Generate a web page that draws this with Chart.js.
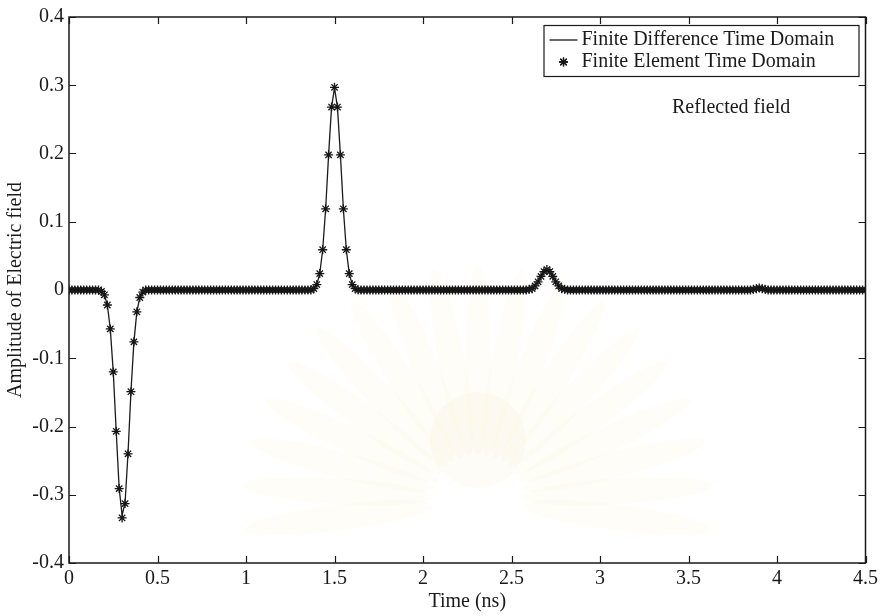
<!DOCTYPE html>
<html>
<head>
<meta charset="utf-8">
<title>Reflected field</title>
<script src="https://cdn.jsdelivr.net/npm/chart.js@4.4.1/dist/chart.umd.min.js"></script>
<style>
  html, body { margin: 0; padding: 0; background: #fff; }
  #wrap { width: 882px; height: 616px; }
</style>
</head>
<body>
<div id="wrap"><canvas id="grafica"></canvas></div>
<script>
// FDTD reference line (ns, field amplitude)
const fdtdTime = [
    0, 0.15, 0.1667, 0.1833, 0.2, 0.2167, 0.2333, 0.25, 0.2667, 0.2833, 0.3, 0.3167, 0.3333, 0.35, 0.3667, 0.3833, 0.4, 0.4167, 0.45,
    1.35, 1.3833, 1.4, 1.4167, 1.4333, 1.45, 1.4667, 1.4833, 1.5, 1.5167, 1.5333, 1.55, 1.5667, 1.5833, 1.6, 1.6167, 1.65,
    2.55, 2.6, 2.6167, 2.6333, 2.65, 2.6667, 2.6833, 2.7, 2.7167, 2.7333, 2.75, 2.7667, 2.7833, 2.8, 2.85,
    3.83, 3.8667, 3.8833, 3.9, 3.9167, 3.9333, 3.97, 4.5
];
const fdtdField = [
    0, 0, 0, -0.002, -0.007, -0.022, -0.057, -0.120, -0.207, -0.290, -0.330, -0.312, -0.240, -0.149, -0.076, -0.032, -0.011, -0.003, 0,
    0, 0.002, 0.008, 0.024, 0.059, 0.119, 0.198, 0.268, 0.296, 0.268, 0.198, 0.119, 0.059, 0.024, 0.008, 0.002, 0,
    0, 0.001, 0.002, 0.006, 0.012, 0.020, 0.027, 0.030, 0.027, 0.020, 0.012, 0.006, 0.002, 0.001, 0,
    0, 0.001, 0.002, 0.003, 0.002, 0.001, 0, 0
];

// FETD samples, one every 1/60 ns from 0 to 4.5 ns
const fetdStep = 1 / 60;
const fetdField = [
    0, 0, 0, 0, 0, 0, 0, 0, 0, 0,
    0, -0.002, -0.007, -0.022, -0.057, -0.120, -0.207, -0.291, -0.334, -0.313,
    -0.240, -0.149, -0.076, -0.032, -0.011, -0.003, 0, 0, 0, 0,
    0, 0, 0, 0, 0, 0, 0, 0, 0, 0,
    0, 0, 0, 0, 0, 0, 0, 0, 0, 0,
    0, 0, 0, 0, 0, 0, 0, 0, 0, 0,
    0, 0, 0, 0, 0, 0, 0, 0, 0, 0,
    0, 0, 0, 0, 0, 0, 0, 0, 0, 0,
    0, 0, 0, 0.002, 0.008, 0.024, 0.059, 0.119, 0.198, 0.268,
    0.297, 0.268, 0.198, 0.119, 0.059, 0.024, 0.008, 0.002, 0, 0,
    0, 0, 0, 0, 0, 0, 0, 0, 0, 0,
    0, 0, 0, 0, 0, 0, 0, 0, 0, 0,
    0, 0, 0, 0, 0, 0, 0, 0, 0, 0,
    0, 0, 0, 0, 0, 0, 0, 0, 0, 0,
    0, 0, 0, 0, 0, 0, 0, 0, 0, 0,
    0, 0, 0, 0, 0, 0, 0.001, 0.002, 0.006, 0.012,
    0.020, 0.027, 0.030, 0.027, 0.020, 0.012, 0.006, 0.002, 0.001, 0,
    0, 0, 0, 0, 0, 0, 0, 0, 0, 0,
    0, 0, 0, 0, 0, 0, 0, 0, 0, 0,
    0, 0, 0, 0, 0, 0, 0, 0, 0, 0,
    0, 0, 0, 0, 0, 0, 0, 0, 0, 0,
    0, 0, 0, 0, 0, 0, 0, 0, 0, 0,
    0, 0, 0, 0, 0, 0, 0, 0, 0, 0,
    0, 0, 0.001, 0.002, 0.003, 0.002, 0.001, 0, 0, 0,
    0, 0, 0, 0, 0, 0, 0, 0, 0, 0,
    0, 0, 0, 0, 0, 0, 0, 0, 0, 0,
    0, 0, 0, 0, 0, 0, 0, 0, 0, 0,
    0
];

const serieNombres = ['Finite Difference Time Domain', 'Finite Element Time Domain'];
const anotacion = 'Reflected field';
const ejeX = { min: 0, max: 4.5, paso: 0.5, titulo: 'Time (ns)' };
const ejeY = { min: -0.4, max: 0.4, paso: 0.1, titulo: 'Amplitude of Electric field' };

const TINTA = '#1a1a1a';
const FUENTE = "'Liberation Serif', 'Times New Roman', serif";

// "1" en vez de "1.0", "-0.3" sin ruido de coma flotante
const etiqueta = v => String(Math.round(v * 10) / 10);

// Sello tenue de fondo (marca de agua del documento escaneado)
const sello = {
    id: 'sello',
    beforeDatasetsDraw(chart) {
        const c = chart.ctx;
        c.save();
        c.translate(478, 500);
        for (let k = 0; k < 19; k++) {
            const ang = Math.PI * (0.96 + k * 1.08 / 18);
            c.save();
            c.rotate(ang);
            c.beginPath();
            c.ellipse(140, 0, 95, 13, 0, 0, Math.PI * 2);
            c.fillStyle = 'rgba(240, 228, 180, 0.09)';
            c.fill();
            c.restore();
        }
        c.beginPath();
        c.arc(0, -60, 48, 0, Math.PI * 2);
        c.fillStyle = 'rgba(244, 234, 200, 0.16)';
        c.fill();
        c.restore();
    }
};

// Marco completo con marcas de escala hacia dentro (estilo MATLAB)
const marco = {
    id: 'marco',
    afterDatasetsDraw(chart) {
        const { ctx, chartArea: a, scales: { x, y } } = chart;
        const largo = 7;
        ctx.save();
        ctx.strokeStyle = TINTA;
        ctx.lineWidth = 1.5;
        ctx.strokeRect(a.left, a.top, a.right - a.left, a.bottom - a.top);
        ctx.lineWidth = 1.2;
        ctx.beginPath();
        x.ticks.forEach(t => {
            const px = Math.round(x.getPixelForValue(t.value)) + 0.5;
            ctx.moveTo(px, a.bottom); ctx.lineTo(px, a.bottom - largo);
            ctx.moveTo(px, a.top); ctx.lineTo(px, a.top + largo);
        });
        y.ticks.forEach(t => {
            const py = Math.round(y.getPixelForValue(t.value)) + 0.5;
            ctx.moveTo(a.left, py); ctx.lineTo(a.left + largo, py);
            ctx.moveTo(a.right, py); ctx.lineTo(a.right - largo, py);
        });
        ctx.stroke();
        ctx.restore();
    }
};

// Leyenda en caja y texto de anotación dentro del área
const leyenda = {
    id: 'leyenda',
    afterDraw(chart) {
        const { ctx, chartArea: a } = chart;
        const caja = { x: a.right - 322, y: a.top + 8, w: 315, h: 51 };
        ctx.save();
        ctx.fillStyle = '#fff';
        ctx.fillRect(caja.x, caja.y, caja.w, caja.h);
        ctx.strokeStyle = TINTA;
        ctx.lineWidth = 1.2;
        ctx.strokeRect(caja.x + 0.5, caja.y + 0.5, caja.w, caja.h);

        const fila1 = caja.y + 15, fila2 = caja.y + 37;
        const muestraX = caja.x + 6;
        ctx.lineWidth = 1.3;
        ctx.beginPath();
        ctx.moveTo(muestraX, fila1); ctx.lineTo(muestraX + 28, fila1);
        ctx.stroke();
        const ds = chart.data.datasets[1];
        Chart.helpers.drawPoint(ctx, {
            pointStyle: ds.pointStyle, radius: ds.pointRadius, borderWidth: ds.borderWidth, rotation: 0
        }, muestraX + 14, fila2);
        ctx.strokeStyle = ds.borderColor;
        ctx.lineWidth = ds.borderWidth;
        ctx.stroke();

        ctx.fillStyle = TINTA;
        ctx.font = '20px ' + FUENTE;
        ctx.textBaseline = 'middle';
        ctx.fillText(serieNombres[0], caja.x + 38, fila1);
        ctx.fillText(serieNombres[1], caja.x + 38, fila2);
        ctx.fillText(anotacion, 672, 108);
        ctx.restore();
    }
};

Chart.defaults.font.family = FUENTE;
Chart.defaults.font.size = 20;
Chart.defaults.color = TINTA;

const ctx = document.getElementById('grafica').getContext('2d');
new Chart(ctx, {
    type: 'line',
    data: {
        datasets: [
            {
                label: serieNombres[0],
                data: fdtdTime.map((t, i) => ({ x: t, y: fdtdField[i] })),
                borderColor: TINTA,
                borderWidth: 1.3,
                pointRadius: 0,
                tension: 0,
                order: 1
            },
            {
                label: serieNombres[1],
                data: fetdField.map((v, i) => ({ x: i * fetdStep, y: v })),
                showLine: false,
                pointStyle: 'star',
                pointRadius: 4.5,
                borderWidth: 1.3,
                borderColor: '#161616',
                backgroundColor: '#161616',
                order: 0
            }
        ]
    },
    options: {
        responsive: true,
        maintainAspectRatio: false,
        animation: false,
        events: [],
        layout: { padding: { top: 17, right: 15, left: 0, bottom: 0 } },
        plugins: { legend: { display: false }, tooltip: { enabled: false } },
        scales: {
            x: {
                type: 'linear',
                min: ejeX.min, max: ejeX.max,
                grid: { display: false, drawTicks: false },
                border: { display: false },
                ticks: { stepSize: ejeX.paso, padding: 4, maxRotation: 0, callback: etiqueta },
                title: { display: true, text: ejeX.titulo, padding: { top: 0, bottom: 2 } },
                afterFit(s) { s.height = 53; }
            },
            y: {
                type: 'linear',
                min: ejeY.min, max: ejeY.max,
                grid: { display: false, drawTicks: false },
                border: { display: false },
                ticks: { stepSize: ejeY.paso, padding: 5, callback: etiqueta },
                title: { display: true, text: ejeY.titulo, padding: { top: 4, bottom: 0 } },
                afterFit(s) { s.width = 69; }
            }
        }
    },
    plugins: [sello, marco, leyenda]
});
</script>
</body>
</html>
